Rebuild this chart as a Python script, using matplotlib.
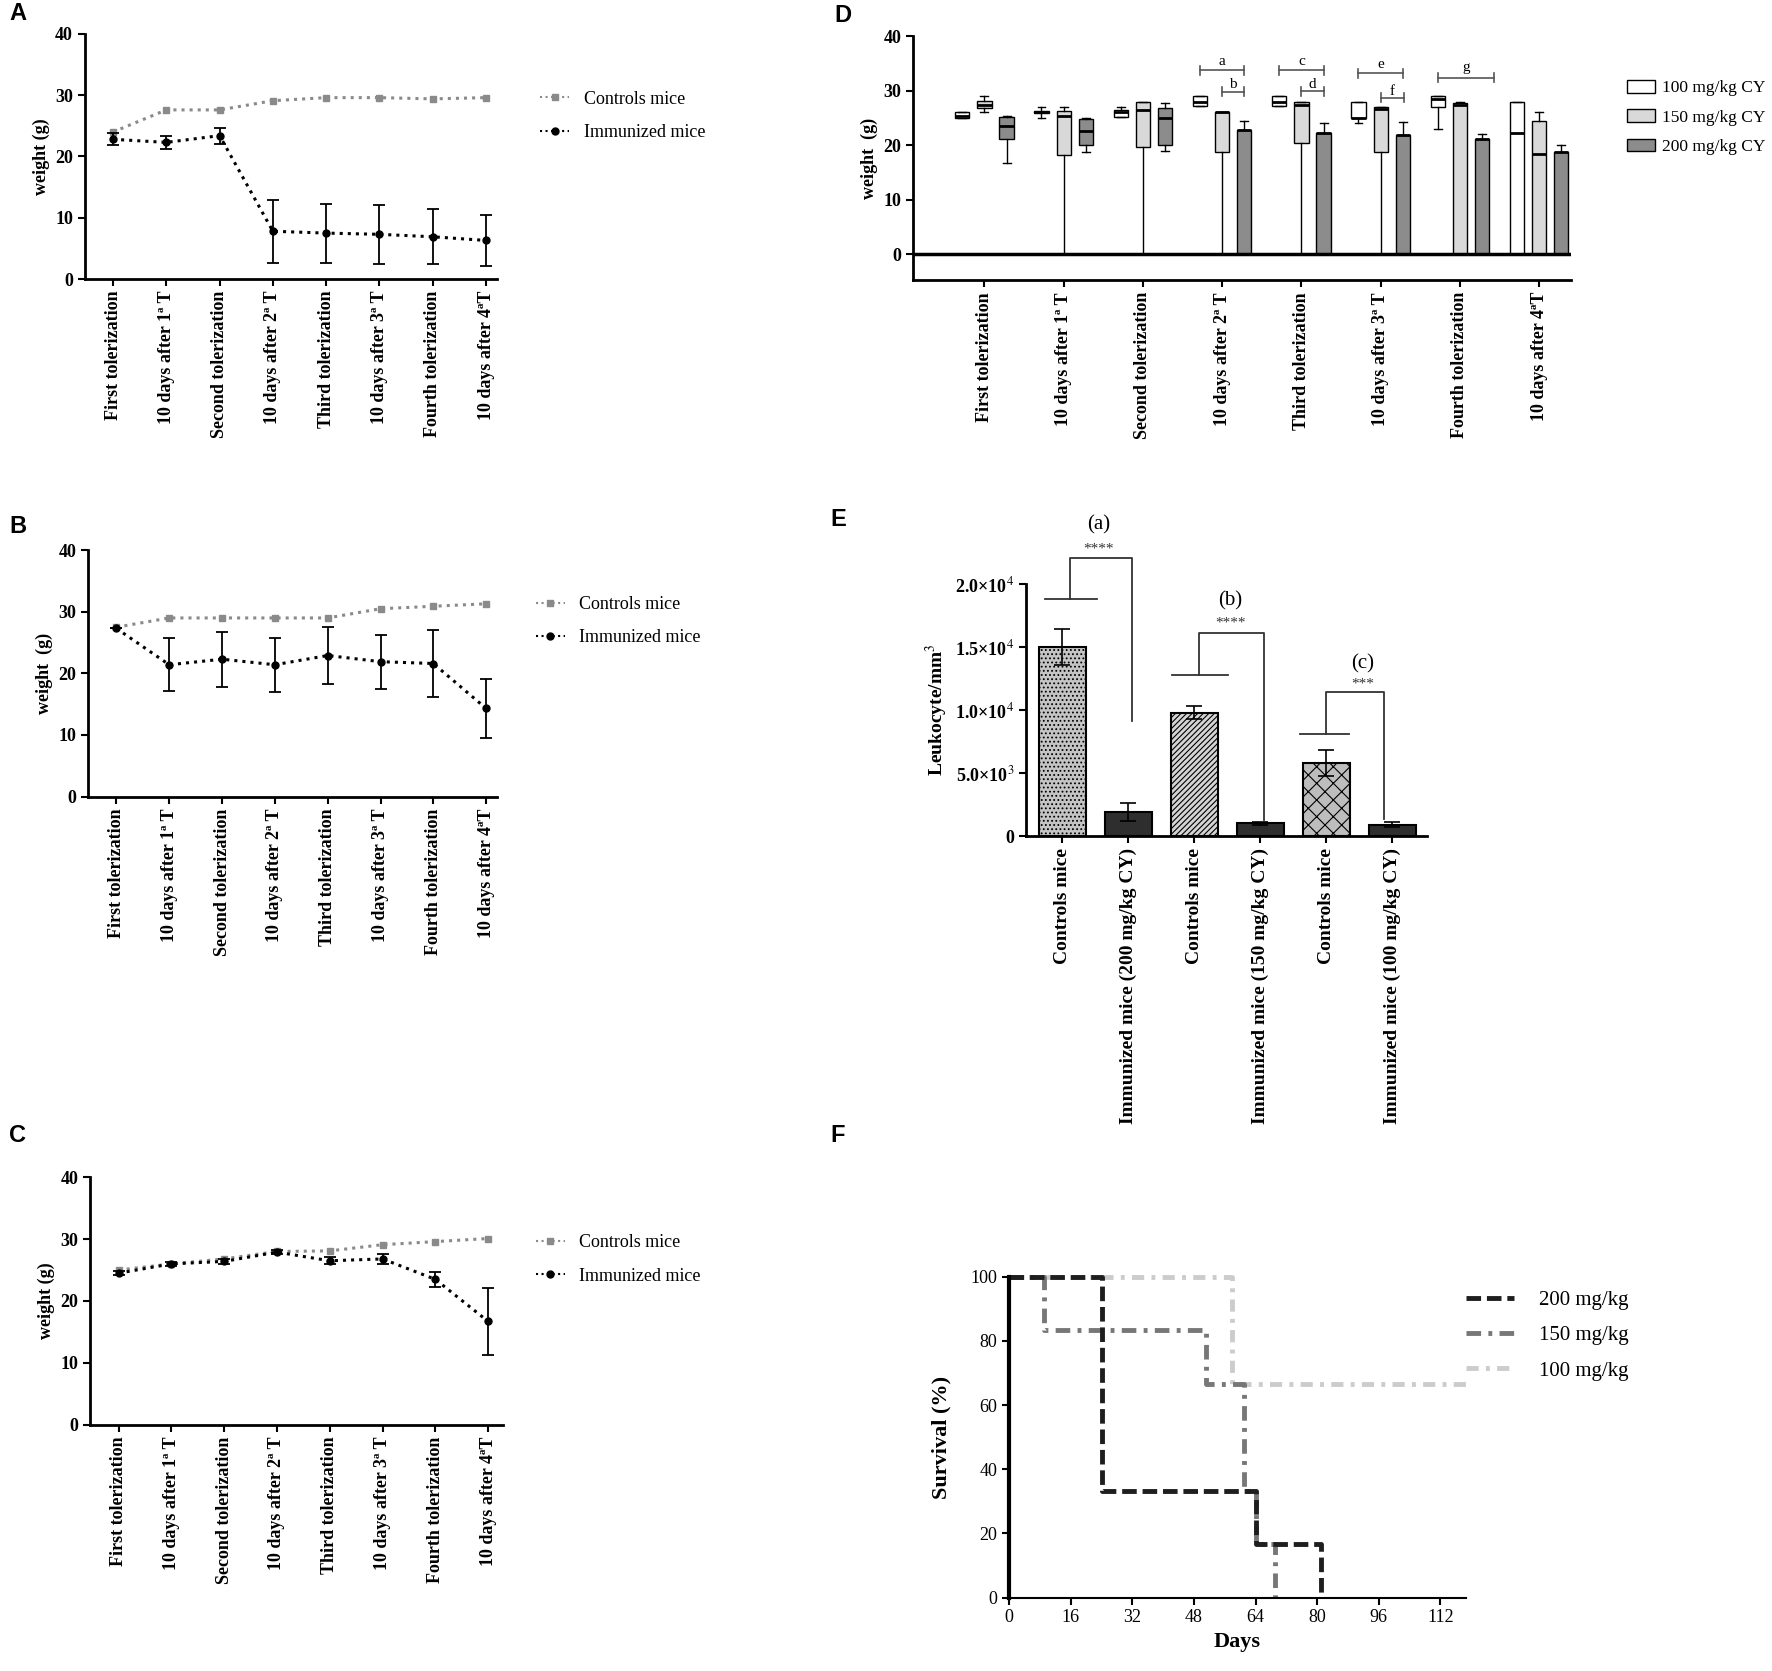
import matplotlib
matplotlib.use("Agg")
import matplotlib.pyplot as plt
import numpy as np
from matplotlib.lines import Line2D
from matplotlib.patches import Patch

plt.rcParams["font.family"] = ["Liberation Serif", "DejaVu Serif"]
plt.rcParams["mathtext.fontset"] = "stix"
plt.rcParams["hatch.linewidth"] = 0.8

# ---- data ----
time_labels = ["First tolerization", "10 days after 1ª T", "Second tolerization",
               "10 days after 2ª T", "Third tolerization", "10 days after 3ª T",
               "Fourth tolerization", "10 days after 4ªT"]

# A
a_ctrl = [24.0, 27.6, 27.6, 29.1, 29.6, 29.6, 29.4, 29.6]
a_imm = [22.8, 22.3, 23.4, 7.8, 7.5, 7.3, 6.9, 6.3]
a_err = [1.0, 1.1, 1.3, 5.1, 4.8, 4.8, 4.5, 4.1]
# B
b_ctrl = [27.5, 29.0, 29.0, 29.0, 29.0, 30.5, 30.9, 31.3]
b_imm = [27.3, 21.4, 22.3, 21.4, 22.9, 21.9, 21.6, 14.3]
b_err = [0.0, 4.3, 4.5, 4.4, 4.6, 4.4, 5.4, 4.8]
# C
c_ctrl = [25.0, 26.0, 26.8, 28.0, 28.1, 29.1, 29.6, 30.1]
c_imm = [24.5, 26.0, 26.4, 27.9, 26.5, 26.8, 23.5, 16.7]
c_err = [0.3, 0.3, 0.4, 0.3, 0.6, 0.8, 1.2, 5.4]

# D  box stats: [whislo, q1, med, q3, whishi]
dose_labels = ["100 mg/kg CY", "150 mg/kg CY", "200 mg/kg CY"]
box_100 = [[25.0, 25.0, 25.4, 26.0, 26.0],
           [25.0, 25.9, 26.0, 26.2, 27.0],
           [25.2, 25.2, 26.0, 26.4, 27.0],
           [27.2, 27.2, 28.0, 29.0, 29.0],
           [27.2, 27.2, 28.0, 29.0, 29.0],
           [24.0, 25.0, 25.0, 28.0, 28.0],
           [23.0, 27.0, 28.5, 29.0, 29.0],
           [0.0, 0.0, 22.3, 28.0, 28.0]]
box_150 = [[26.0, 26.8, 27.3, 28.1, 29.0],
           [0.0, 18.2, 25.3, 26.3, 27.0],
           [0.0, 19.7, 26.5, 28.0, 28.0],
           [0.0, 18.8, 26.0, 26.0, 26.0],
           [0.0, 20.3, 27.4, 28.0, 28.0],
           [0.0, 18.8, 26.7, 27.0, 27.0],
           [0.0, 0.0, 27.3, 27.7, 28.0],
           [0.0, 0.0, 18.3, 24.5, 26.0]]
box_200 = [[16.8, 21.2, 23.5, 25.1, 25.3],
           [18.8, 20.0, 22.6, 24.8, 25.0],
           [19.0, 20.0, 25.0, 26.8, 27.8],
           [0.0, 0.0, 22.8, 22.8, 24.5],
           [0.0, 0.0, 22.3, 22.3, 24.0],
           [0.0, 0.0, 21.8, 21.8, 24.3],
           [0.0, 0.0, 21.2, 21.2, 22.0],
           [0.0, 0.0, 18.7, 18.7, 20.0]]
# significance brackets: x start, x end, y, letter, letter y
d_sig = [(2.72, 3.28, 33.7, "a", 35.3), (3.0, 3.28, 29.8, "b", 31.1),
         (3.72, 4.28, 33.7, "c", 35.3), (4.0, 4.28, 29.9, "d", 31.1),
         (4.72, 5.28, 33.2, "e", 34.8), (5.0, 5.3, 28.7, "f", 29.9),
         (5.72, 6.43, 32.4, "g", 34.3)]

# E
leuk_labels = ["Controls mice", "Immunized mice (200 mg/kg CY)", "Controls mice",
               "Immunized mice (150 mg/kg CY)", "Controls mice", "Immunized mice (100 mg/kg CY)"]
leuk_mean = [15000, 1900, 9800, 1000, 5800, 900]
leuk_err = [1400, 700, 500, 150, 1000, 200]

# F  survival steps
surv200_t = [0, 24, 64, 81]
surv200_s = [100, 33.3, 16.7, 0]
surv150_t = [0, 9, 51, 61, 64, 69]
surv150_s = [100, 83.3, 66.7, 33.3, 16.7, 0]
surv100_t = [0, 58, 118.6]
surv100_s = [100, 66.7, 66.7]

# reference measured on a 1568 x 1479 view
W, H = 1568.0, 1479.0


def rect(l, t, r, b):
    return [l / W, 1 - b / H, (r - l) / W, (b - t) / H]


fig = plt.figure(figsize=(17.72, 16.71), dpi=100)


def style_axes(ax):
    for s in ["top", "right"]:
        ax.spines[s].set_visible(False)
    ax.spines["left"].set_linewidth(2)
    ax.spines["bottom"].set_linewidth(2)
    ax.tick_params(width=1.5, length=5)


def weight_panel(r, ctrl, imm, err, ylab, xl, leg_anchor):
    ax = fig.add_axes(r)
    x = np.arange(len(time_labels))
    ax.plot(x, ctrl, ls=":", lw=2.2, color="#8a8a8a", marker="s", ms=5, clip_on=False)
    ax.errorbar(x, imm, yerr=err, ls=":", lw=2.2, color="black", marker="o", ms=5,
                capsize=4, elinewidth=1.3, capthick=1.3, clip_on=False)
    style_axes(ax)
    ax.set_ylim(0, 40)
    ax.set_xlim(*xl)
    ax.set_yticks([0, 10, 20, 30, 40])
    ax.set_xticks(x)
    ax.set_xticklabels(time_labels, rotation=90, fontsize=13, fontweight="bold")
    for t in ax.get_yticklabels():
        t.set_fontweight("bold")
        t.set_fontsize(13)
    ax.set_ylabel(ylab, fontsize=13, fontweight="bold")
    handles = [Line2D([], [], ls=":", lw=1.5, color="#8a8a8a", marker="s", ms=5),
               Line2D([], [], ls=":", lw=1.5, color="black", marker="o", ms=5)]
    ax.legend(handles, ["Controls mice", "Immunized mice"], loc="upper left",
              bbox_to_anchor=leg_anchor, frameon=False, fontsize=13,
              handlelength=1.6, handletextpad=0.8, labelspacing=0.9)
    return ax


weight_panel(rect(75, 30, 440, 247), a_ctrl, a_imm, a_err, "weight (g)",
             (-0.53, 7.21), (1.065, 0.835))
weight_panel(rect(78, 487, 440, 705), b_ctrl, b_imm, b_err, "weight  (g)",
             (-0.535, 7.21), (1.055, 0.88))
weight_panel(rect(80, 1042, 445, 1261), c_ctrl, c_imm, c_err, "weight (g)",
             (-0.535, 7.28), (1.04, 0.835))

# ---- D ----
axd = fig.add_axes(rect(808, 32, 1390, 248))
pos = np.arange(len(time_labels))
box_colors = ["white", "#d9d9d9", "#8c8c8c"]
for data, col, off in zip([box_100, box_150, box_200], box_colors, [-0.28, 0.0, 0.28]):
    stats = [dict(whislo=s[0], q1=s[1], med=s[2], q3=s[3], whishi=s[4]) for s in data]
    axd.bxp(stats, positions=pos + off, widths=0.18, patch_artist=True, showfliers=False,
            boxprops=dict(facecolor=col, edgecolor="black", linewidth=1),
            medianprops=dict(color="black", linewidth=2),
            whiskerprops=dict(color="black", linewidth=1),
            capprops=dict(color="black", linewidth=1), capwidths=0.1,
            manage_ticks=False)
axd.axhline(0, color="black", lw=2.5, zorder=5)
for x0, x1, y, lab, ly in d_sig:
    axd.plot([x0, x1], [y, y], color="#555555", lw=1.2)
    axd.plot([x0, x0], [y - 0.8, y + 0.8], color="#555555", lw=1.2)
    axd.plot([x1, x1], [y - 0.8, y + 0.8], color="#555555", lw=1.2)
    axd.text((x0 + x1) / 2, ly, lab, ha="center", va="center", fontsize=11)
style_axes(axd)
axd.set_ylim(-4.8, 40)
axd.set_xlim(-0.9, 7.4)
axd.set_yticks([0, 10, 20, 30, 40])
axd.set_xticks(pos)
axd.set_xticklabels(time_labels, rotation=90, fontsize=13, fontweight="bold")
for t in axd.get_yticklabels():
    t.set_fontweight("bold")
    t.set_fontsize(13)
axd.set_ylabel("weight  (g)", fontsize=13, fontweight="bold")
d_handles = [Patch(facecolor=c, edgecolor="black", lw=1) for c in box_colors]
axd.legend(d_handles, dose_labels, loc="upper left", bbox_to_anchor=(1.062, 0.885),
           frameon=False, fontsize=12.5, handlelength=1.6, handleheight=0.75,
           labelspacing=0.75, handletextpad=0.4)

# ---- E ----
axe = fig.add_axes(rect(908, 517, 1263, 740))
xe = np.arange(len(leuk_labels))
bar_face = ["#c4c4c4", "#2e2e2e", "#d4d4d4", "#2e2e2e", "#bdbdbd", "#2e2e2e"]
bar_hatch = ["....", "", "//////", "", "xx", ""]
for i in range(len(xe)):
    axe.bar(xe[i], leuk_mean[i], width=0.72, color=bar_face[i], hatch=bar_hatch[i],
            edgecolor="black", linewidth=1.5)
axe.errorbar(xe, leuk_mean, yerr=leuk_err, fmt="none", ecolor="black", capsize=6,
             elinewidth=1.2, capthick=1.2)
style_axes(axe)
axe.set_ylim(0, 20000)
axe.set_xlim(-0.55, 5.53)
axe.set_yticks([0, 5000, 10000, 15000, 20000])
axe.set_yticklabels(["0", r"5.0×10$^{3}$", r"1.0×10$^{4}$", r"1.5×10$^{4}$", r"2.0×10$^{4}$"],
                    fontsize=13, fontweight="bold")
axe.set_xticks(xe)
axe.set_xticklabels(leuk_labels, rotation=90, fontsize=14, fontweight="bold")
axe.set_ylabel("Leukocyte/mm$^{3}$", fontsize=14, fontweight="bold")

# brackets: base line, riser, top, drop
e_brackets = [(0, -0.27, 0.52, 0.12, 1.05, 18800, 22050, 9100, "****", 22750, "(a)", 24700),
              (2, -0.34, 0.51, 0.07, 1.06, 12750, 16150, 1300, "****", 16900, "(b)", 18650),
              (4, -0.40, 0.34, 0.0, 0.88, 8070, 11400, 1350, "***", 12100, "(c)", 13700)]
for c, l0, l1, rx, dx, yb, yt, yd, star, ys, lab, yl in e_brackets:
    kw = dict(color="#333333", lw=1.3, clip_on=False)
    axe.plot([c + l0, c + l1], [yb, yb], **kw)
    axe.plot([c + rx, c + rx, c + dx, c + dx], [yb, yt, yt, yd], **kw)
    axe.text(c + 0.55, ys, star, ha="center", va="center", fontsize=11, color="#333333")
    axe.text(c + 0.55, yl, lab, ha="center", va="center", fontsize=15)

# ---- F ----
axf = fig.add_axes(rect(893, 1130, 1297, 1414))
axf.step(surv100_t, surv100_s, where="post", color="#cccccc", lw=3.5,
         ls=(0, (2.5, 1.5, 0.8, 1.5)), clip_on=False, label="100 mg/kg")
axf.step(surv150_t, surv150_s, where="post", color="#777777", lw=3.5,
         ls=(0, (3, 1.5, 0.8, 1.5)), clip_on=False, label="150 mg/kg")
axf.step(surv200_t, surv200_s, where="post", color="#1e1e1e", lw=3.5,
         ls=(0, (3, 1.2)), clip_on=False, label="200 mg/kg")
for s in ["top", "right"]:
    axf.spines[s].set_visible(False)
axf.spines["left"].set_linewidth(3)
axf.spines["bottom"].set_linewidth(1.5)
axf.tick_params(width=1.5, length=5, labelsize=13)
axf.set_xlim(0, 118.6)
axf.set_ylim(0, 100)
axf.set_xticks(np.arange(0, 113, 16))
axf.set_yticks(np.arange(0, 101, 20))
axf.set_xlabel("Days", fontsize=16, fontweight="bold")
axf.set_ylabel("Survival (%)", fontsize=16, fontweight="bold", labelpad=14)
h, lb = axf.get_legend_handles_labels()
axf.legend(h[::-1], lb[::-1], loc="upper left", bbox_to_anchor=(0.96, 1.015),
           frameon=False, fontsize=15, handlelength=2.3, handletextpad=1.2,
           labelspacing=0.75)

# panel letters
for letter, x, y in [("A", 8, 12), ("B", 8, 466), ("C", 8, 1005),
                     ("D", 738, 14), ("E", 735, 460), ("F", 735, 1005)]:
    fig.text(x / W, 1 - y / H, letter, fontsize=17, fontweight="bold",
             family="Liberation Sans", ha="left", va="center")

fig.savefig("out.png", dpi=100)
